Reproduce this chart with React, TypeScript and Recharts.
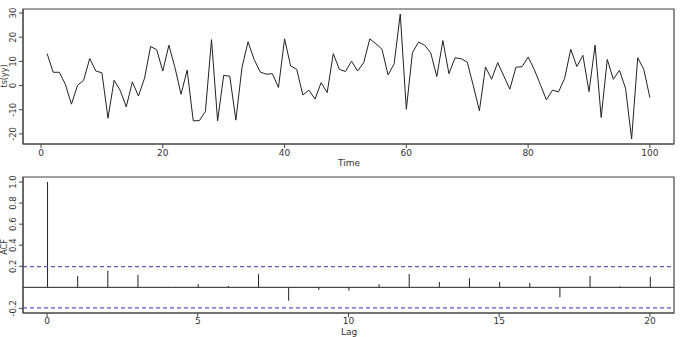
import React from 'react';
import { ComposedChart, Line, Bar, XAxis, YAxis, ReferenceLine, ReferenceArea } from 'recharts';

// Time series values, t = 1..100
const tsValues: number[] = [
  13.2, 5.5, 5.5, 0.5, -7.7, 0.1, 2.2, 11.2, 6, 5.3,
  -13.5, 2.2, -2, -8.8, 1.5, -4.3, 3, 16.2, 14.8, 6,
  16.7, 7.4, -3.6, 6.4, -14.6, -14.5, -10.7, 19, -14.6, 4.2,
  3.9, -14.3, 7.4, 18.1, 10.8, 5.6, 4.7, 4.9, -0.8, 19.3,
  8.1, 6.7, -3.9, -1.9, -5.6, 1.2, -2.9, 13.2, 6.7, 5.8,
  10.1, 6, 9.5, 19.3, 17.3, 15, 4.4, 9, 29.6, -9.8,
  13.6, 18, 16.7, 13.6, 3.7, 18.6, 4.9, 11.5, 11.1, 9.7,
  -0.1, -10.4, 7.7, 2.6, 9.5, 4, -1.5, 7.6, 7.8, 11.8,
  6.7, 0.5, -5.9, -1.9, -2.6, 3, 15, 7.9, 12.5, -2.5,
  16.7, -13.2, 10.8, 2.6, 6.3, -1.1, -22.1, 11.5, 6.7, -5,
];

// ACF values, lag 0..20
const acfValues: number[] = [
  1, 0.108, 0.159, 0.12, 0.005, 0.03, 0.013, 0.124, -0.127, -0.025,
  -0.032, 0.03, 0.127, 0.05, 0.086, 0.05, 0.04, -0.095, 0.108, 0.01, 0.1,
];

const ciBound = 0.196;

const tsXTicks = [0, 20, 40, 60, 80, 100];
const tsYTicks = [-20, -10, 0, 10, 20, 30];
const acfXTicks = [0, 5, 10, 15, 20];
const acfYTicks = [-0.2, 0.2, 0.4, 0.6, 0.8, 1.0];

const tsData = tsValues.map((v, i) => ({ t: i + 1, v }));
const acfData = acfValues.map((a, i) => ({ lag: i, a }));

const FONT = "'DejaVu Sans', sans-serif";
const TXT = '#333';
const AX = '#444';

const tsXDom: [number, number] = [-2.96, 103.96];
const tsYDom: [number, number] = [-24.17, 31.67];
const acfXDom: [number, number] = [-0.8, 20.8];
const acfYDom: [number, number] = [-0.2438, 1.0478];

const YTick = (props: any) => {
  const { y, payload, fmt } = props;
  const label = fmt ? fmt(payload.value) : String(payload.value);
  return (
    <text
      x={13}
      y={y}
      transform={`rotate(-90 13 ${y})`}
      textAnchor="middle"
      dominantBaseline="central"
      fontSize={8.5}
      fontFamily={FONT}
      fill={TXT}
    >
      {label}
    </text>
  );
};

const Title = (props: any) => {
  const { px, py, txt, rot, fs } = props;
  return (
    <text
      x={px}
      y={py}
      transform={rot ? `rotate(-90 ${px} ${py})` : undefined}
      textAnchor="middle"
      dominantBaseline="central"
      fontSize={fs || 9}
      fontFamily={FONT}
      fill={TXT}
    >
      {txt}
    </text>
  );
};

export default function App() {
  return (
    <div style={{ position: 'absolute', left: 0, top: 0, width: 680, height: 337, background: '#fff' }}>
      <div style={{ position: 'absolute', left: 0, top: 0 }}>
        <ComposedChart width={680} height={170} data={tsData} margin={{ top: 9, right: 6, left: 0, bottom: 0 }}>
          <XAxis
            dataKey="t"
            type="number"
            domain={tsXDom}
            ticks={tsXTicks}
            interval={0}
            allowDataOverflow
            height={26}
            tickSize={4}
            tickMargin={2}
            stroke={AX}
            tick={{ fontSize: 9, fontFamily: FONT, fill: TXT }}
            label={<Title px={349} py={163} txt="Time" />}
          />
          <YAxis
            type="number"
            domain={tsYDom}
            ticks={tsYTicks}
            interval={0}
            allowDataOverflow
            width={23}
            tickSize={4}
            stroke={AX}
            tick={<YTick />}
            label={<Title px={4.5} py={76} txt="ts(yy)" rot fs={8} />}
          />
          <ReferenceArea x1={tsXDom[0]} x2={tsXDom[1]} y1={tsYDom[0]} y2={tsYDom[1]} fill="none" fillOpacity={0} stroke={AX} strokeWidth={1.2} ifOverflow="visible" />
          <Line dataKey="v" stroke="#222" strokeWidth={1} dot={false} isAnimationActive={false} />
        </ComposedChart>
      </div>
      <div style={{ position: 'absolute', left: 0, top: 170 }}>
        <ComposedChart width={680} height={167} data={acfData} margin={{ top: 7, right: 6, left: 0, bottom: 0 }}>
          <XAxis
            dataKey="lag"
            type="number"
            domain={acfXDom}
            ticks={acfXTicks}
            interval={0}
            allowDataOverflow
            height={24}
            tickSize={4}
            tickMargin={1}
            stroke={AX}
            tick={{ fontSize: 9, fontFamily: FONT, fill: TXT }}
            label={<Title px={349} py={162} txt="Lag" />}
          />
          <YAxis
            type="number"
            domain={acfYDom}
            ticks={acfYTicks}
            interval={0}
            allowDataOverflow
            width={23}
            tickSize={4}
            stroke={AX}
            tick={<YTick fmt={(v: number) => v.toFixed(1)} />}
            label={<Title px={4.5} py={77} txt="ACF" rot fs={8} />}
          />
          <ReferenceArea x1={acfXDom[0]} x2={acfXDom[1]} y1={acfYDom[0]} y2={acfYDom[1]} fill="none" fillOpacity={0} stroke={AX} strokeWidth={1.2} ifOverflow="visible" />
          <ReferenceLine y={0} stroke="#222" strokeWidth={1} />
          <ReferenceLine y={ciBound} stroke="#5a5ac8" strokeWidth={1.3} strokeDasharray="4 3" />
          <ReferenceLine y={-ciBound} stroke="#5a5ac8" strokeWidth={1.3} strokeDasharray="4 3" />
          <Bar dataKey="a" fill="#222" barSize={1} isAnimationActive={false} />
        </ComposedChart>
      </div>
    </div>
  );
}
